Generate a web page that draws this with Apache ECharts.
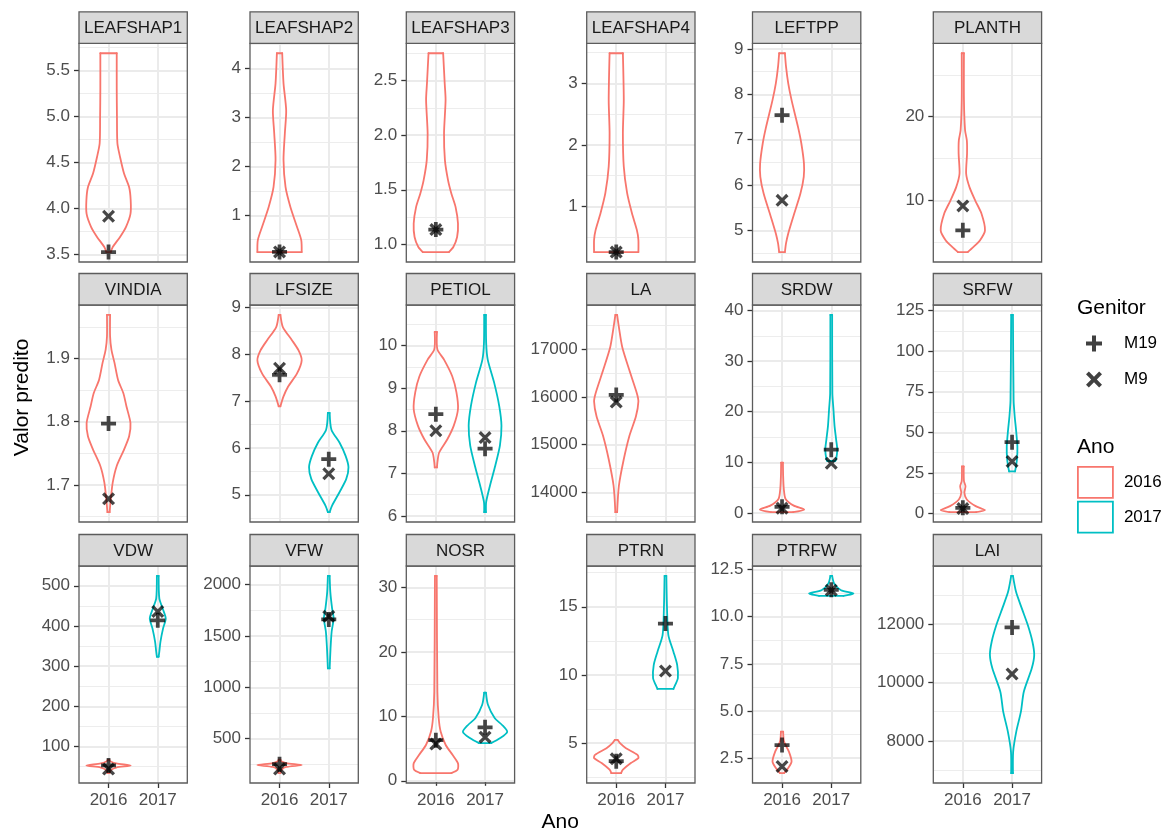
<!DOCTYPE html>
<html>
<head>
<meta charset="utf-8">
<script src="https://cdn.jsdelivr.net/npm/echarts@6/dist/echarts.min.js"></script>
<style>
  html, body { margin: 0; padding: 0; background: #ffffff; }
  #chart { width: 1171px; height: 829px; }
</style>
</head>
<body>
<div id="chart"></div>
<script>
// ---- data ---------------------------------------------------------------
const years = ['2016', '2017'];
const genitors = ['M19', 'M9'];

const variables = ['LEAFSHAP1', 'LEAFSHAP2', 'LEAFSHAP3', 'LEAFSHAP4', 'LEFTPP', 'PLANTH',
                   'VINDIA', 'LFSIZE', 'PETIOL', 'LA', 'SRDW', 'SRFW',
                   'VDW', 'VFW', 'NOSR', 'PTRN', 'PTRFW', 'LAI'];

// y tick labels of each panel (free scales)
const tickLabels = [
  ['3.5', '4.0', '4.5', '5.0', '5.5'],
  ['1', '2', '3', '4'],
  ['1.0', '1.5', '2.0', '2.5'],
  ['1', '2', '3'],
  ['5', '6', '7', '8', '9'],
  ['10', '20'],
  ['1.7', '1.8', '1.9'],
  ['5', '6', '7', '8', '9'],
  ['6', '7', '8', '9', '10'],
  ['14000', '15000', '16000', '17000'],
  ['0', '10', '20', '30', '40'],
  ['0', '25', '50', '75', '100', '125'],
  ['100', '200', '300', '400', '500'],
  ['500', '1000', '1500', '2000'],
  ['0', '10', '20', '30'],
  ['5', '10', '15'],
  ['2.5', '5.0', '7.5', '10.0', '12.5'],
  ['8000', '10000', '12000']
];

// violin profiles: [value, relative density] from the lowest to the highest value
const violins2016 = [
  [[3.525, 0.10], [3.58, 0.19], [3.69, 0.52], [3.80, 0.79], [3.94, 0.99], [4.09, 1.0], [4.23, 0.93], [4.38, 0.70], [4.56, 0.52], [4.71, 0.40], [5.0, 0.38], [5.3, 0.37], [5.69, 0.37]],
  [[0.247, 1.0], [0.49, 0.98], [0.76, 0.79], [1.17, 0.49], [1.58, 0.27], [2.13, 0.18], [2.68, 0.24], [3.15, 0.30], [3.70, 0.18], [4.316, 0.12]],
  [[0.929, 0.59], [0.975, 0.79], [1.067, 0.96], [1.19, 1.0], [1.343, 0.89], [1.466, 0.70], [1.588, 0.55], [1.771, 0.41], [2.017, 0.37], [2.322, 0.44], [2.476, 0.40], [2.751, 0.33]],
  [[0.26, 1.0], [0.46, 1.0], [0.62, 0.93], [0.89, 0.71], [1.22, 0.49], [1.65, 0.34], [2.19, 0.30], [2.73, 0.34], [3.49, 0.30]],
  [[4.52, 0.13], [4.71, 0.18], [4.93, 0.28], [5.29, 0.50], [5.81, 0.83], [6.18, 0.98], [6.47, 0.99], [6.92, 0.87], [7.28, 0.72], [7.87, 0.43], [8.24, 0.28], [8.61, 0.18], [8.905, 0.13]],
  [[3.86, 0.22], [4.45, 0.47], [5.25, 0.77], [6.45, 1.0], [8.45, 0.84], [10.0, 0.56], [11.6, 0.30], [13.2, 0.15], [15.6, 0.19], [17.2, 0.18], [18.4, 0.10], [22.0, 0.05], [27.57, 0.05]],
  [[1.657, 0.05], [1.677, 0.10], [1.704, 0.19], [1.730, 0.37], [1.756, 0.70], [1.777, 0.93], [1.798, 0.99], [1.824, 0.81], [1.845, 0.67], [1.866, 0.43], [1.893, 0.27], [1.914, 0.13], [1.935, 0.07], [1.969, 0.07]],
  [[6.89, 0.04], [7.10, 0.18], [7.31, 0.39], [7.59, 0.79], [7.87, 1.0], [8.08, 0.86], [8.30, 0.56], [8.58, 0.15], [8.84, 0.04]],
  [[7.14, 0.05], [7.26, 0.07], [7.49, 0.15], [7.80, 0.52], [8.12, 0.81], [8.51, 1.0], [8.90, 0.93], [9.28, 0.74], [9.67, 0.37], [9.91, 0.07], [10.32, 0.05]],
  [[13584, 0.04], [14137, 0.12], [14692, 0.34], [15176, 0.59], [15592, 0.89], [15903, 1.0], [16078, 0.93], [16562, 0.59], [17046, 0.27], [17461, 0.12], [17719, 0.04]],
  [[0.14, 0.50], [0.65, 1.0], [1.43, 0.53], [2.75, 0.16], [4.71, 0.08], [7.31, 0.05], [9.94, 0.04]],
  [[0.8, 0.60], [2.0, 1.0], [4.5, 0.58], [8.6, 0.18], [12.7, 0.07], [16.7, 0.12], [20.0, 0.05], [29.0, 0.04]],
  [[34, 0.04], [42, 0.12], [48, 0.35], [53, 1.0], [58, 0.35], [63, 0.10], [67, 0.04]],
  [[165, 0.04], [200, 0.10], [225, 0.30], [244, 1.0], [262, 0.30], [280, 0.08], [295, 0.04]],
  [[1.19, 0.70], [1.7, 0.98], [2.7, 1.0], [4.0, 0.76], [5.6, 0.44], [7.6, 0.22], [9.7, 0.13], [13.8, 0.07], [31.8, 0.04]],
  [[2.80, 0.22], [3.05, 0.30], [3.54, 0.66], [3.90, 1.0], [4.14, 0.96], [4.63, 0.44], [5.0, 0.17], [5.24, 0.06]],
  [[1.71, 0.09], [1.97, 0.27], [2.32, 0.43], [2.85, 0.31], [3.38, 0.09], [3.91, 0.05]],
  null
];

const violins2017 = [
  null, null, null, null, null, null, null,
  [[4.63, 0.04], [4.77, 0.15], [5.06, 0.49], [5.34, 0.79], [5.59, 0.89], [5.83, 0.76], [6.11, 0.49], [6.39, 0.12], [6.75, 0.04]],
  [[6.09, 0.04], [6.33, 0.05], [6.71, 0.22], [7.18, 0.46], [7.65, 0.67], [8.12, 0.74], [8.58, 0.64], [9.13, 0.41], [9.67, 0.12], [10.06, 0.05], [10.72, 0.04]],
  null,
  [[10.25, 0.18], [10.6, 0.22], [12.5, 0.27], [14.5, 0.22], [17.1, 0.15], [20.4, 0.10], [23.67, 0.05], [39.16, 0.04]],
  [[25.9, 0.13], [27.0, 0.15], [33.1, 0.22], [41.2, 0.24], [51.5, 0.18], [59.6, 0.12], [69.9, 0.07], [122.4, 0.04]],
  [[323.5, 0.04], [335.9, 0.07], [360.7, 0.12], [394.0, 0.24], [418.8, 0.36], [443.6, 0.22], [468.5, 0.07], [524.6, 0.04]],
  [[1184, 0.04], [1378, 0.08], [1540, 0.13], [1670, 0.22], [1767, 0.15], [1928, 0.07], [2083.6, 0.04]],
  [[5.84, 0.27], [6.6, 0.67], [7.6, 1.0], [8.7, 0.76], [9.7, 0.44], [11.8, 0.13], [13.68, 0.04]],
  [[8.98, 0.36], [9.27, 0.44], [9.76, 0.56], [10.73, 0.53], [11.71, 0.36], [12.93, 0.13], [14.88, 0.07], [17.27, 0.04]],
  [[11.1, 0.55], [11.23, 1.0], [11.4, 0.44], [11.76, 0.13], [12.16, 0.04]],
  [[6896, 0.04], [7634, 0.05], [8318, 0.19], [9002, 0.40], [9685, 0.53], [10485, 0.89], [10940, 1.0], [11395, 0.92], [11966, 0.71], [12537, 0.44], [13104, 0.18], [13651, 0.04]]
];

// predicted values per genitor: [2016, 2017]
const m19 = [
  [3.525, null], [0.25, null], [1.135, null], [0.26, null], [7.54, null], [6.45, null],
  [1.797, null], [7.56, 5.76], [8.39, 7.58], [16040, null], [1.2, 12.5], [3.5, 43.9],
  [53, 414], [252, 1660], [6.3, 8.3], [3.68, 13.77], [3.2, 11.42], [null, 11887]
];
const m9 = [
  [3.915, null], [0.25, null], [1.135, null], [0.26, null], [5.66, null], [9.36, null],
  [1.678, null], [7.70, 5.45], [8.0, 7.84], [15890, null], [0.9, 9.8], [3.0, 32.0],
  [44, 436], [205, 1690], [5.7, 6.77], [3.85, 10.29], [2.06, 11.40], [null, 10291]
];

// ---- layout & style -----------------------------------------------------
const COL_LEFT = [79, 250, 406.3, 586.7, 752.5, 933.3];
const PANEL_W = 108.3;
const PANEL_TOP = [43.3, 305, 566];
const PANEL_BOTTOM = [262, 522, 783];
const STRIP_H = 31.5;
const NCOL = 6;

const YEAR_COLORS = ['#F8766D', '#00BFC4'];
const HALF_WIDTH = 0.45;          // half of the maximal violin width, in x units
const FONT = '"Liberation Sans", Arial, sans-serif';
const TICK_FONT = 17;
const BORDER = '#5c5c5c';

const PLUS = 'path://M5.25,0H8.75V5.25H14V8.75H8.75V14H5.25V8.75H0V5.25H5.25Z';
const CROSS = 'path://M0,2.5L2.5,0L7,4.5L11.5,0L14,2.5L9.5,7L14,11.5L11.5,14L7,9.5L2.5,14L0,11.5L4.5,7Z';

// ---- helpers --------------------------------------------------------------
function panelExtent(i) {
  const vals = [];
  [violins2016[i], violins2017[i]].forEach(function (p) {
    if (p) p.forEach(function (r) { vals.push(r[0]); });
  });
  [m19[i], m9[i]].forEach(function (p) {
    p.forEach(function (v) { if (v != null) vals.push(v); });
  });
  const lo = Math.min.apply(null, vals), hi = Math.max.apply(null, vals);
  const pad = (hi - lo) * 0.05;
  return [lo - pad, hi + pad];
}

function minorBreaks(major, ext) {
  const step = major[1] - major[0];
  const out = [];
  for (let k = 0; k <= major.length; k++) {
    const v = major[0] - step / 2 + k * step;
    if (v >= ext[0] && v <= ext[1]) out.push(v);
  }
  return out;
}

function violinSeries(profile, yearIdx, panelIdx) {
  const x = yearIdx + 1;
  const color = YEAR_COLORS[yearIdx];
  return {
    type: 'custom',
    name: years[yearIdx],
    xAxisIndex: panelIdx,
    yAxisIndex: panelIdx * 2,
    silent: true,
    z: 3,
    encode: { x: 0, y: 1 },
    data: profile.map(function (r) { return [x, r[0], r[1]]; }),
    renderItem: function (params, api) {
      if (params.dataIndex !== 0) return null;
      const left = profile.map(function (r) { return api.coord([x - HALF_WIDTH * r[1], r[0]]); });
      const right = profile.map(function (r) { return api.coord([x + HALF_WIDTH * r[1], r[0]]); });
      const n = profile.length - 1;
      const st = { stroke: color, lineWidth: 1.8, fill: null, lineJoin: 'round', lineCap: 'round' };
      return {
        type: 'group',
        children: [
          { type: 'polyline', shape: { points: left, smooth: 0.25 }, style: st },
          { type: 'polyline', shape: { points: right, smooth: 0.25 }, style: st },
          { type: 'line', shape: { x1: left[n][0], y1: left[n][1], x2: right[n][0], y2: right[n][1] }, style: st },
          { type: 'line', shape: { x1: left[0][0], y1: left[0][1], x2: right[0][0], y2: right[0][1] }, style: st }
        ]
      };
    }
  };
}

function pointSeries(values, genIdx, panelIdx) {
  const data = [];
  values.forEach(function (v, k) { if (v != null) data.push([k + 1, v]); });
  return {
    type: 'scatter',
    name: genitors[genIdx],
    xAxisIndex: panelIdx,
    yAxisIndex: panelIdx * 2,
    symbol: genIdx === 0 ? PLUS : CROSS,
    symbolSize: genIdx === 0 ? 15 : 13,
    itemStyle: { color: '#000000', opacity: 0.72 },
    silent: true,
    z: 4,
    data: data
  };
}

// ---- build option -------------------------------------------------------
const grids = [], xAxes = [], yAxes = [], series = [], graphics = [];

variables.forEach(function (name, i) {
  const r = Math.floor(i / NCOL), c = i % NCOL;
  const left = COL_LEFT[c], top = PANEL_TOP[r], h = PANEL_BOTTOM[r] - PANEL_TOP[r];
  const bottomRow = r === 2;
  const ext = panelExtent(i);
  const labels = tickLabels[i];
  const major = labels.map(Number);
  const minor = minorBreaks(major, ext);

  grids.push({ left: left, top: top, width: PANEL_W, height: h, show: false, outerBoundsMode: 'none', containLabel: false });

  xAxes.push({
    type: 'value', gridIndex: i, min: 0.4, max: 2.6,
    axisLine: { show: false },
    axisTick: { show: bottomRow, customValues: [1, 2], length: 5, lineStyle: { color: '#333333', width: 1.3 } },
    axisLabel: {
      show: bottomRow, customValues: [1, 2], margin: 9,
      color: '#4D4D4D', fontSize: TICK_FONT, fontFamily: FONT,
      formatter: function (v) { return years[Math.round(v) - 1]; }
    },
    splitLine: { show: true, lineStyle: { color: '#EBEBEB', width: 2 } }
  });

  // major breaks: labels, ticks and grid lines
  yAxes.push({
    type: 'value', gridIndex: i, min: ext[0], max: ext[1], position: 'left', z: 1,
    axisLine: { show: false },
    axisTick: { show: true, customValues: major, length: 5, lineStyle: { color: '#333333', width: 1.3 } },
    axisLabel: {
      show: true, customValues: major, margin: 9,
      color: '#4D4D4D', fontSize: TICK_FONT, fontFamily: FONT,
      formatter: function (v) {
        let best = 0;
        major.forEach(function (m, k) { if (Math.abs(m - v) < Math.abs(major[best] - v)) best = k; });
        return labels[best];
      }
    },
    splitLine: { show: true, lineStyle: { color: '#EBEBEB', width: 2 } }
  });
  // minor breaks: grid lines only
  yAxes.push({
    type: 'value', gridIndex: i, min: ext[0], max: ext[1], position: 'left', z: 0,
    axisLine: { show: false },
    axisTick: { show: false, customValues: minor },
    axisLabel: { show: false, customValues: minor },
    splitLine: { show: true, lineStyle: { color: '#EDEDED', width: 1 } }
  });

  if (violins2016[i]) series.push(violinSeries(violins2016[i], 0, i));
  if (violins2017[i]) series.push(violinSeries(violins2017[i], 1, i));
  series.push(pointSeries(m19[i], 0, i));
  series.push(pointSeries(m9[i], 1, i));

  // panel border and strip
  graphics.push({
    type: 'rect', z: 100, silent: true,
    shape: { x: left, y: top, width: PANEL_W, height: h },
    style: { fill: null, stroke: BORDER, lineWidth: 1.3 }
  });
  graphics.push({
    type: 'rect', z: 100, silent: true,
    shape: { x: left, y: top - STRIP_H, width: PANEL_W, height: STRIP_H },
    style: { fill: '#D9D9D9', stroke: BORDER, lineWidth: 1.3 }
  });
  graphics.push({
    type: 'text', z: 101, silent: true,
    x: left + PANEL_W / 2, y: top - STRIP_H / 2 + 1,
    style: { text: name, align: 'center', verticalAlign: 'middle', fontSize: TICK_FONT, fontFamily: FONT, fill: '#1A1A1A' }
  });
});

// axis titles and legend titles
graphics.push({
  type: 'text', silent: true, x: (COL_LEFT[0] + COL_LEFT[5] + PANEL_W) / 2, y: 822,
  style: { text: 'Ano', align: 'center', verticalAlign: 'middle', fontSize: 21, fontFamily: FONT, fill: '#000000' }
});
graphics.push({
  type: 'text', silent: true, x: 22, y: (PANEL_TOP[0] - STRIP_H + PANEL_BOTTOM[2]) / 2, rotation: Math.PI / 2,
  style: { text: 'Valor predito', align: 'center', verticalAlign: 'middle', fontSize: 21, fontFamily: FONT, fill: '#000000' }
});
graphics.push({
  type: 'text', silent: true, x: 1077, y: 308,
  style: { text: 'Genitor', align: 'left', verticalAlign: 'middle', fontSize: 21, fontFamily: FONT, fill: '#000000' }
});
graphics.push({
  type: 'text', silent: true, x: 1077, y: 447,
  style: { text: 'Ano', align: 'left', verticalAlign: 'middle', fontSize: 21, fontFamily: FONT, fill: '#000000' }
});

const option = {
  animation: false,
  backgroundColor: '#ffffff',
  textStyle: { fontFamily: FONT },
  grid: grids,
  xAxis: xAxes,
  yAxis: yAxes,
  legend: [
    {
      data: [
        { name: 'M19', icon: PLUS, itemStyle: { color: '#000000', opacity: 0.75 } },
        { name: 'M9', icon: CROSS, itemStyle: { color: '#000000', opacity: 0.75 } }
      ],
      orient: 'vertical', left: 1086, top: 335, padding: 0,
      itemWidth: 30, itemHeight: 16, itemGap: 19, selectedMode: false,
      textStyle: { fontSize: TICK_FONT, fontFamily: FONT, color: '#000000', padding: [0, 0, 0, 10] }
    },
    {
      data: [
        { name: '2016', icon: 'rect', itemStyle: { color: '#ffffff', borderColor: YEAR_COLORS[0], borderWidth: 1.8 } },
        { name: '2017', icon: 'rect', itemStyle: { color: '#ffffff', borderColor: YEAR_COLORS[1], borderWidth: 1.8 } }
      ],
      orient: 'vertical', left: 1077, top: 466, padding: 0,
      itemWidth: 35, itemHeight: 31, itemGap: 2, selectedMode: false,
      textStyle: { fontSize: TICK_FONT, fontFamily: FONT, color: '#000000', padding: [0, 0, 0, 6] }
    }
  ],
  graphic: graphics,
  series: series
};

const chart = echarts.init(document.getElementById('chart'), null, { renderer: 'canvas' });
chart.setOption(option);
</script>
</body>
</html>
